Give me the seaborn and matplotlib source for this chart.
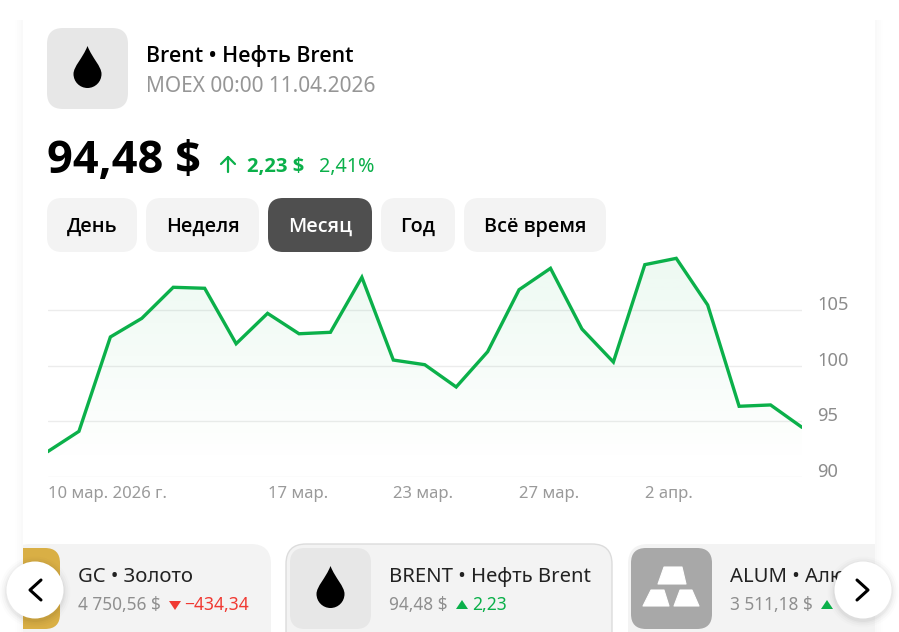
import numpy as np
import pandas as pd
import seaborn as sns
import matplotlib
matplotlib.use("Agg")
import matplotlib.pyplot as plt
from matplotlib.patches import FancyBboxPatch, Circle, Rectangle, Polygon, PathPatch
from matplotlib.path import Path

# ---------- data ----------
prices = [92.25, 94.09, 102.60, 104.28, 107.08, 106.99, 101.99, 104.73, 102.89,
          103.02, 107.98, 100.52, 100.10, 98.09, 101.27, 106.86, 108.79, 103.32,
          100.34, 109.12, 109.69, 105.48, 96.35, 96.47, 94.45]
day_index = list(range(len(prices)))
date_tick_pos = [0, 7, 11, 15, 19]
date_tick_labels = ["10 мар. 2026 г.", "17 мар.", "23 мар.", "27 мар.", "2 апр."]
value_ticks = [90, 95, 100, 105]
period_buttons = ["День", "Неделя", "Месяц", "Год", "Всё время"]

GREEN = "#0bb04a"
GREY = "#8f8f8f"
W, H = 899, 632

sns.set_theme(style="white")
plt.rcParams["font.family"] = ["Noto Sans", "DejaVu Sans"]

fig = plt.figure(figsize=(W / 100, H / 100), dpi=100, facecolor="white")
bg = fig.add_axes([0, 0, 1, 1], zorder=0)
bg.set_xlim(0, W)
bg.set_ylim(H, 0)
bg.axis("off")


def rbox(x0, y0, x1, y1, r, fc, ec="none", lw=0, z=2, clip=None):
    p = FancyBboxPatch((x0 + r, y0 + r), x1 - x0 - 2 * r, y1 - y0 - 2 * r,
                       boxstyle=f"round,pad={r},rounding_size={r}", fc=fc, ec=ec, lw=lw, zorder=z)
    bg.add_patch(p)
    if clip is not None:
        p.set_clip_path(clip)
    return p


def txt(x, y, s, size, color="black", weight="normal", ha="left", z=5, clip=None):
    family = "Open Sans" if weight != "normal" else "Noto Sans"
    t = bg.text(x, y, s, fontsize=size, color=color, fontweight=weight, family=family,
                ha=ha, va="baseline", zorder=z)
    if clip is not None:
        t.set_clip_on(True)
        t.set_clip_path(clip)
    return t


def drop(cx, top, bottom, r, z=4):
    cy = bottom - r
    k = 0.5523 * r
    verts = [(cx, top), (cx + r * 0.35, top + (cy - top) * 0.45), (cx + r, cy - k), (cx + r, cy),
             (cx + r, cy + k), (cx + k, bottom), (cx, bottom),
             (cx - k, bottom), (cx - r, cy + k), (cx - r, cy),
             (cx - r, cy - k), (cx - r * 0.35, top + (cy - top) * 0.45), (cx, top)]
    codes = [Path.MOVETO] + [Path.CURVE4] * 12
    bg.add_patch(PathPatch(Path(verts, codes), fc="black", ec="none", zorder=z))


# card shadow
for i, a in enumerate([0.022, 0.016, 0.010, 0.005]):
    bg.add_patch(Rectangle((23 - i * 2 - 2, 20), 2, H, fc="black", ec="none", alpha=a, zorder=1))
    bg.add_patch(Rectangle((875 + i * 2, 20), 2, H, fc="black", ec="none", alpha=a, zorder=1))

# header
rbox(47, 28, 128, 109, 16, "#e7e7e7")
drop(87.5, 46, 88, 14)
txt(146, 62, "Brent • Нефть Brent", 15.4, weight="semibold")
txt(146, 92, "MOEX 00:00 11.04.2026", 15, color="#969696")
txt(47, 173, "94,48 $", 32.5, weight="bold")
# up arrow
bg.plot([228, 228], [172, 157], color=GREEN, lw=1.6, zorder=5)
bg.plot([221, 228, 235], [164, 157, 164], color=GREEN, lw=1.6, zorder=5)
txt(247, 172, "2,23 $", 14.6, color=GREEN, weight="bold")
txt(319, 172, "2,41%", 14.2, color=GREEN)

# period buttons
spans = [(47, 137), (146, 259), (268, 372), (381, 455), (464, 606)]
for name, (a, b) in zip(period_buttons, spans):
    active = name == "Месяц"
    rbox(a, 198, b, 252, 15, "#4f4f4f" if active else "#f3f3f3")
    txt((a + b) / 2, 232, name, 14.2, color="white" if active else "black",
        weight="semibold", ha="center")

# bottom cards
clip_rect = Rectangle((23, 530), 852, 102, transform=bg.transData)
rbox(10, 544, 271, 660, 20, "#f3f3f3", clip=clip_rect)
rbox(286, 544, 612, 660, 20, "#f3f3f3", ec="#dcdcdc", lw=1.0, clip=clip_rect)
rbox(628, 544, 900, 660, 20, "#f3f3f3", clip=clip_rect)

rbox(0, 548, 60, 629, 15, "#d9af45", z=3, clip=clip_rect)
rbox(290, 548, 371, 629, 15, "#e7e7e7", z=3)
drop(330.5, 566, 608, 14)
rbox(631, 548, 712, 629, 15, "#a8a8a8", z=3)
for pts in ([(664, 567), (682, 567), (686, 584), (658, 584)],
            [(651, 590), (664, 590), (669, 606), (643, 606)],
            [(680, 590), (692, 590), (699, 606), (674, 606)]):
    bg.add_patch(Polygon(pts, closed=True, fc="white", ec="white", lw=0.8, joinstyle="round", zorder=4))

txt(78, 582, "GC • Золото", 14.6, color="#222222")
txt(78, 610, "4 750,56 $", 12.4, color=GREY)
bg.add_patch(Polygon([(169, 601), (181, 601), (175, 610)], fc="#f03a33", ec="none", zorder=5))
txt(184, 610, "−434,34", 12.6, color="#f03a33")

txt(389, 582, "BRENT • Нефть Brent", 14.6, color="#222222")
txt(389, 610, "94,48 $", 12.4, color=GREY)
bg.add_patch(Polygon([(456, 609), (468, 609), (462, 600)], fc=GREEN, ec="none", zorder=5))
txt(472, 610, "2,23", 12.6, color=GREEN)

txt(730, 582, "ALUM • Алюминий", 14.6, color="#222222", clip=clip_rect)
txt(730, 610, "3 511,18 $", 12.4, color=GREY)
bg.add_patch(Polygon([(821, 609), (833, 609), (827, 600)], fc=GREEN, ec="none", zorder=5))

# carousel buttons
for cx, pts in ((35, [(41, 580), (30, 590), (41, 600)]), (863, [(857, 580), (868, 590), (857, 600)])):
    for extra, a in ((7, 0.012), (5, 0.018), (3, 0.025), (1.5, 0.03)):
        bg.add_patch(Circle((cx, 592), 28.5 + extra, fc="black", ec="none", alpha=a, zorder=6))
    bg.add_patch(Circle((cx, 590), 28.5, fc="white", ec="none", zorder=7))
    xs, ys = zip(*pts)
    bg.plot(xs, ys, color="black", lw=2.2, solid_capstyle="round", solid_joinstyle="round", zorder=8)
bg.set_xlim(0, W)
bg.set_ylim(H, 0)

# ---------- chart ----------
x0, x1 = 47.5, 802.0
y90, y_top = 476.7, 250.0
ax = fig.add_axes([x0 / W, 1 - y90 / H, (x1 - x0) / W, (y90 - y_top) / H], zorder=2)
ax.patch.set_alpha(0)
df = pd.DataFrame({"day": day_index, "price": prices})

ymax = 90 + (y90 - y_top) / 11.09
rgba = np.zeros((256, 1, 4))
rgba[..., :3] = matplotlib.colors.to_rgb(GREEN)
rgba[:, 0, 3] = np.linspace(0.075, 0.0, 256)
im = ax.imshow(rgba, extent=[0, 24, 91, 110], origin="upper", aspect="auto", zorder=1)
poly = ax.fill_between(day_index, prices, 90, color="none")
im.set_clip_path(poly.get_paths()[0], transform=ax.transData)

sns.lineplot(data=df, x="day", y="price", ax=ax, color=GREEN, lw=2.4, zorder=3,
             errorbar=None, solid_joinstyle="miter")
ax.set_xlim(0, 24)
ax.set_ylim(90, ymax)
ax.set_xlabel("")
ax.set_ylabel("")
for s in ax.spines.values():
    s.set_visible(False)
ax.set_yticks(value_ticks)
ax.yaxis.tick_right()
ax.grid(axis="y", color="#ececec", lw=1.0, zorder=0)
ax.grid(axis="x", visible=False)
ax.tick_params(axis="y", length=0, pad=11, labelsize=13.2, labelcolor="#8c8c8c")
for lab in ax.get_yticklabels():
    lab.set_va("baseline")
ax.set_xticks(date_tick_pos)
ax.set_xticklabels(date_tick_labels, ha="left")
ax.tick_params(axis="x", length=0, pad=7, labelsize=12, labelcolor="#9a9a9a")

fig.savefig("out.png", dpi=100, facecolor="white")
